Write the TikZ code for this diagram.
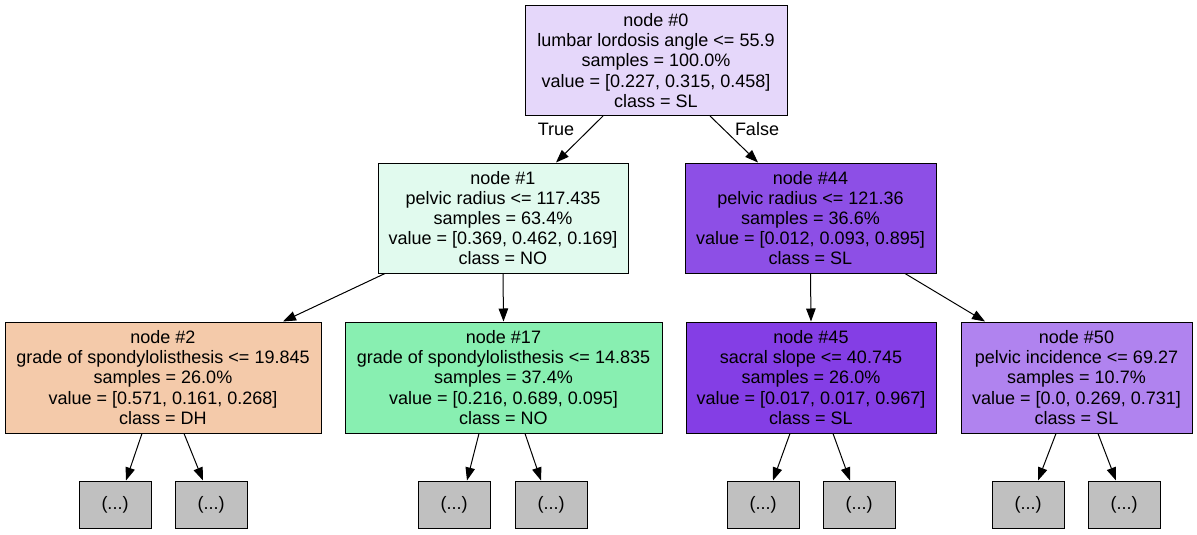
\documentclass[tikz,border=0pt]{standalone}
\usepackage{fontspec}
\setmainfont{Liberation Sans}
\usetikzlibrary{arrows.meta}
\definecolor{c0}{HTML}{E5D7FA}
\definecolor{c1}{HTML}{E1FAEE}
\definecolor{c44}{HTML}{8D4FE6}
\definecolor{c2}{HTML}{F4CAAA}
\definecolor{c17}{HTML}{88EFB1}
\definecolor{c45}{HTML}{843EE5}
\definecolor{c50}{HTML}{B083EF}
\definecolor{cl}{HTML}{C0C0C0}
\begin{document}
\begin{tikzpicture}[x=1pt,y=-1pt,
  tnode/.style={draw=black,line width=1pt,rectangle,align=center,inner sep=0pt,minimum height=110pt,
    font=\fontsize{18}{20.2}\selectfont},
  leaf/.style={draw=black,line width=1pt,fill=cl,rectangle,inner sep=0pt,minimum width=72pt,minimum height=47pt,
    font=\fontsize{18}{20.2}\selectfont},
  edge/.style={line width=1pt,-{Triangle[length=13pt,width=9.5pt]}},
  elab/.style={font=\fontsize{18}{20}\selectfont,inner sep=0pt}]
\useasboundingbox (0,0) rectangle (1197,535);
\node[tnode,fill=c0,minimum width=262pt] (n0) at (656,60.5) {node \#0\\lumbar lordosis angle <= 55.9\\samples = 100.0\%\\value = [0.227, 0.315, 0.458]\\class = SL};
\node[tnode,fill=c1,minimum width=250pt] (n1) at (503,218) {node \#1\\pelvic radius <= 117.435\\samples = 63.4\%\\value = [0.369, 0.462, 0.169]\\class = NO};
\node[tnode,fill=c44,minimum width=251pt] (n44) at (810.5,218) {node \#44\\pelvic radius <= 121.36\\samples = 36.6\%\\value = [0.012, 0.093, 0.895]\\class = SL};
\node[tnode,fill=c2,minimum width=316pt,minimum height=111pt] (n2) at (163,377.5) {node \#2\\grade of spondylolisthesis <= 19.845\\samples = 26.0\%\\value = [0.571, 0.161, 0.268]\\class = DH};
\node[tnode,fill=c17,minimum width=317pt,minimum height=111pt] (n17) at (503.5,377.5) {node \#17\\grade of spondylolisthesis <= 14.835\\samples = 37.4\%\\value = [0.216, 0.689, 0.095]\\class = NO};
\node[tnode,fill=c45,minimum width=250pt,minimum height=111pt] (n45) at (811,377.5) {node \#45\\sacral slope <= 40.745\\samples = 26.0\%\\value = [0.017, 0.017, 0.967]\\class = SL};
\node[tnode,fill=c50,minimum width=231pt,minimum height=111pt] (n50) at (1076.5,377.5) {node \#50\\pelvic incidence <= 69.27\\samples = 10.7\%\\value = [0.0, 0.269, 0.731]\\class = SL};
\node[leaf] (l1) at (115,504.5) {(...)};
\node[leaf] (l2) at (211,504.5) {(...)};
\node[leaf] (l3) at (454,504.5) {(...)};
\node[leaf] (l4) at (551,504.5) {(...)};
\node[leaf] (l5) at (763,504.5) {(...)};
\node[leaf] (l6) at (859,504.5) {(...)};
\node[leaf] (l7) at (1028,504.5) {(...)};
\node[leaf] (l8) at (1124,504.5) {(...)};
\draw[edge] ([xshift=-53pt]n0.south) -- ([xshift=53pt]n1.north);
\draw[edge] ([xshift=54pt]n0.south) -- ([xshift=-52.5pt]n44.north);
\draw[edge] ([xshift=-118pt]n1.south) -- ([xshift=120pt]n2.north);
\draw[edge] (n1.south) -- (n17.north);
\draw[edge] (n44.south) -- (n45.north);
\draw[edge] ([xshift=94.5pt]n44.south) -- ([xshift=-91.5pt]n50.north);
\draw[edge] ([xshift=-21pt]n2.south) -- ([xshift=11pt]l1.north);
\draw[edge] ([xshift=21pt]n2.south) -- ([xshift=-8pt]l2.north);
\draw[edge] ([xshift=-24.5pt]n17.south) -- ([xshift=13pt]l3.north);
\draw[edge] ([xshift=21.5pt]n17.south) -- ([xshift=-10pt]l4.north);
\draw[edge] ([xshift=-21pt]n45.south) -- ([xshift=10pt]l5.north);
\draw[edge] ([xshift=22pt]n45.south) -- ([xshift=-9pt]l6.north);
\draw[edge] ([xshift=-20.5pt]n50.south) -- ([xshift=10pt]l7.north);
\draw[edge] ([xshift=21.5pt]n50.south) -- ([xshift=-8pt]l8.north);
\node[elab] (tl) at (556,129) {True};
\node[elab] (fl) at (757,129) {False};
\end{tikzpicture}
\end{document}
